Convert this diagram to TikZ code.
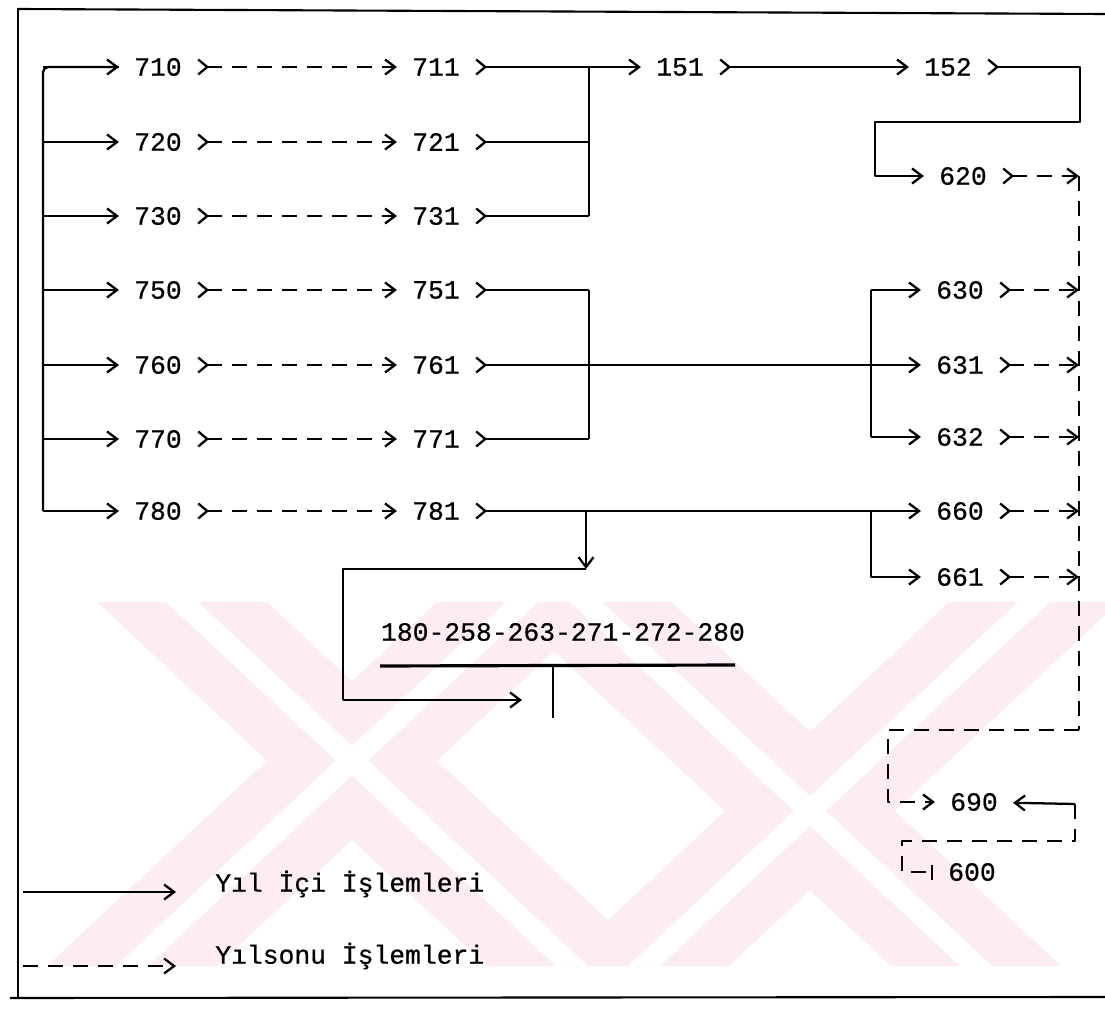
\documentclass[tikz,border=0pt]{standalone}
\usepackage{fontspec}
\setmonofont[FakeBold=0.6]{Liberation Mono}
\usetikzlibrary{positioning}
\usetikzlibrary{arrows.meta}
\definecolor{wmpink}{RGB}{253,236,240}

\tikzset{
  acc/.style={font=\fontsize{15}{18}\selectfont\ttfamily, inner xsep=3mm, inner ysep=1mm},
  wire/.style={line width=1.3pt, line join=round},
  sonu/.style={dash pattern=on 3mm off 2mm},
  headout/.style={-{Straight Barb[length=2mm,width=3mm]}},
  tailin/.style={{Straight Barb[reversed,length=1.8mm,width=3mm]}-},
  both/.style={{Straight Barb[reversed,length=1.8mm,width=3mm]}-{Straight Barb[length=2mm,width=3mm]}},
  closing/.style={-{Bar[width=3mm]}}
}

\begin{document}
\begin{tikzpicture}[x=0.2mm, y=-0.2mm]
    \useasboundingbox (0,0) rectangle (1105,1009);

    \begin{scope}
        \clip (18,602) rectangle (1105,966);
        \foreach \t/\b in {182/572,522/132,586/976,1034/644}
            \fill[wmpink] (\t-85,602) -- (\t+85,602) -- (\b+85,966) -- (\b-85,966) -- cycle;
        \foreach \t/\b in {182/572,522/132,586/976,1034/644}
            \fill[white] (\t-16,602) -- (\t+16,602) -- (\b+16,966) -- (\b-16,966) -- cycle;
    \end{scope}

    \draw[line width=1.5pt] (18,8) -- (18,999);
    \draw[line width=1.2pt] (18,9) -- (1105,14);
    \draw[line width=1.2pt] (10,998) -- (1105,997);

    \node[acc] (a710) at (158,67) {710};
    \node[acc] (a720) at (158,142) {720};
    \node[acc] (a730) at (158,216) {730};
    \node[acc] (a750) at (158,290) {750};
    \node[acc] (a760) at (158,365) {760};
    \node[acc] (a770) at (158,439) {770};
    \node[acc] (a780) at (158,511) {780};

    \node[acc] (a711) at (436,67) {711};
    \node[acc] (a721) at (436,142) {721};
    \node[acc] (a731) at (436,216) {731};
    \node[acc] (a751) at (436,290) {751};
    \node[acc] (a761) at (436,365) {761};
    \node[acc] (a771) at (436,439) {771};
    \node[acc] (a781) at (436,511) {781};

    \node[acc] (a151) at (680,67) {151};
    \node[acc] (a152) at (948,67) {152};
    \node[acc] (a620) at (963,176) {620};
    \node[acc] (a630) at (960,290) {630};
    \node[acc] (a631) at (960,365) {631};
    \node[acc] (a632) at (960,437) {632};
    \node[acc] (a660) at (960,511) {660};
    \node[acc] (a661) at (960,577) {661};
    \node[acc] (a690) at (974,802) {690};
    \node[acc] (a600) at (972,872) {600};

    \node[acc] (hesap) at (563,632) {180-258-263-271-272-280};

    \coordinate (lbt) at (43,67);
    \coordinate (ub) at (589,67);
    \coordinate (mb) at (589,290);
    \coordinate (sb) at (871,290);
    \coordinate (rb) at (1079,176);
    \coordinate (rbb) at (1079,730);
    \coordinate (k1) at (1080,122);
    \coordinate (k2) at (875,122);
    \coordinate (db) at (586,569);
    \coordinate (c1) at (343,569);
    \coordinate (c2) at (343,700);
    \coordinate (c3) at (522,700);
    \coordinate (t1) at (380,666);
    \coordinate (t2) at (735,665);
    \coordinate (t3) at (553,666);
    \coordinate (t4) at (553,718);
    \coordinate (d1) at (888,730);
    \coordinate (e1) at (1075,804);
    \coordinate (e2) at (1075,841);
    \coordinate (e3) at (902,841);

    \draw[wire, rounded corners=3pt] (lbt |- a780) -- (lbt) -- (a710);
    \draw[wire, headout] (lbt) -- (a710);
    \foreach \n in {720,730,750,760,770,780}
        \draw[wire, headout] (lbt |- a\n) -- (a\n);

    \foreach \n/\m in {710/711,720/721,730/731,750/751,760/761,770/771,780/781}
        \draw[wire, sonu, both] (a\n) -- (a\m);

    \foreach \n in {711,721,731}
        \draw[wire, tailin] (a\n) -- (a\n -| ub);
    \draw[wire] (ub) -- (a731 -| ub);
    \draw[wire, headout] (ub) -- (a151);
    \draw[wire, both] (a151) -- (a152);
    \draw[wire, both] (a152) -- (a152 -| k1) -- (k1) -- (k2) |- (a620);

    \foreach \n in {751,771}
        \draw[wire, tailin] (a\n) -- (a\n -| mb);
    \draw[wire] (mb) -- (a771 -| mb);
    \draw[wire, both] (a761) -- (a631);
    \draw[wire] (sb) -- (a632 -| sb);
    \draw[wire, headout] (sb) -- (a630);
    \draw[wire, headout] (a632 -| sb) -- (a632);

    \draw[wire, both] (a781) -- (a660);
    \draw[wire, headout] (a781 -| db) -- (db);
    \draw[wire, headout] (a781 -| sb) |- (a661);
    \draw[wire] (db) -- (c1) -- (c2);
    \draw[wire, headout] (c2) -- (c3);
    \draw[line width=1.8pt] (t1) -- (t2);
    \draw[wire] (t3) -- (t4);

    \foreach \n in {620,630,631,632,660,661}
        \draw[wire, sonu, both] (a\n) -- (a\n -| rb);
    \draw[wire, sonu] (rb) -- (rbb);
    \draw[wire, sonu, headout] (rbb) -- (d1) |- (a690);
    \draw[wire, headout] (e1) -- (a690);
    \draw[wire, sonu, closing] (e1) -- (e2) -- (e3) |- (a600);

    \node[acc, anchor=west] (yilici) at (200,884) {Yıl İçi İşlemleri};
    \node[acc, anchor=west] (yilsonu) at (200,956) {Yılsonu İşlemleri};
    \coordinate (l1) at (23,892);
    \coordinate (l2) at (23,966);
    \draw[wire, headout] (l1) -- (176,892);
    \draw[wire, sonu, headout] (l2) -- (176,966);
\end{tikzpicture}
\end{document}
